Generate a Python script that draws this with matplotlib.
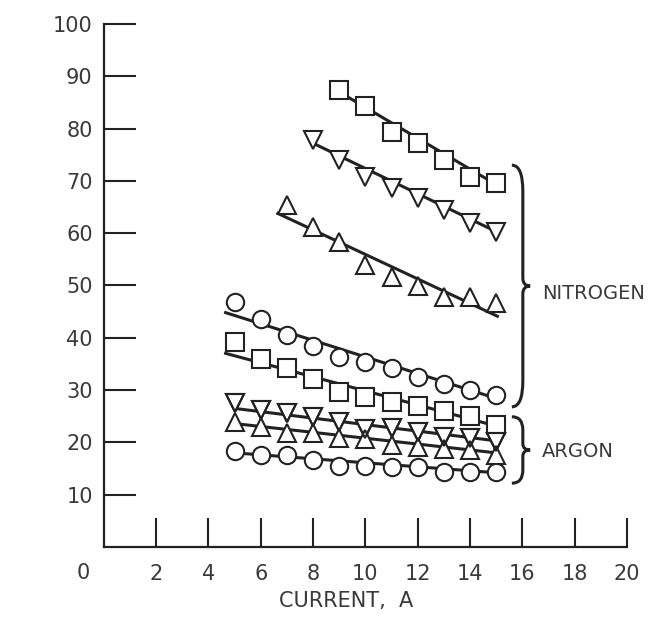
import numpy as np
import matplotlib
matplotlib.use("Agg")
import matplotlib.pyplot as plt
from matplotlib.path import Path
from matplotlib.patches import PathPatch

plt.rcParams['font.family'] = ['Liberation Sans Narrow', 'DejaVu Sans']

# nitrogen series (current, A -> value)
n_sq_hi_x = [9, 10, 11, 12, 13, 14, 15]
n_sq_hi_y = [87.4, 84.3, 79.3, 77.2, 74.0, 70.7, 69.6]
n_dn_x = [8, 9, 10, 11, 12, 13, 14, 15]
n_dn_y = [77.8, 74.0, 70.7, 68.7, 66.7, 64.4, 62.0, 60.2]
n_up_x = [7, 8, 9, 10, 11, 12, 13, 14, 15]
n_up_y = [65.4, 61.2, 58.3, 53.9, 51.6, 49.9, 47.8, 47.8, 46.7]
n_circ_x = [5, 6, 7, 8, 9, 10, 11, 12, 13, 14, 15]
n_circ_y = [46.8, 43.6, 40.5, 38.4, 36.3, 35.4, 34.2, 32.5, 31.2, 30.0, 29.1]
n_sq_lo_x = [5, 6, 7, 8, 9, 10, 11, 12, 13, 14, 15]
n_sq_lo_y = [39.2, 35.9, 34.2, 32.1, 29.6, 28.7, 27.7, 27.0, 26.0, 25.0, 23.3]

# argon series
a_x = [5, 6, 7, 8, 9, 10, 11, 12, 13, 14, 15]
a_dn_y = [27.5, 26.2, 25.6, 24.9, 23.9, 22.6, 22.8, 22.0, 21.1, 20.8, 20.1]
a_up_y = [23.9, 23.0, 21.8, 21.8, 20.8, 20.7, 19.5, 19.1, 18.8, 18.5, 17.6]
a_circ_y = [18.4, 17.6, 17.6, 16.6, 15.5, 15.5, 15.3, 15.3, 14.3, 14.3, 14.3]

# faired lines: (x start, x end), (y start, y end)
fit_n_sq_hi = ([9.0, 15.0], [87.0, 69.3])
fit_n_dn = ([8.0, 15.0], [77.2, 60.3])
fit_n_up = ([6.6, 15.1], [63.9, 44.0])
fit_n_circ = ([4.6, 15.2], [44.9, 28.1])
fit_n_sq_lo = ([4.6, 15.1], [37.1, 23.0])
fit_a_dn = ([5.0, 15.0], [26.5, 20.3])
fit_a_up = ([5.0, 15.0], [23.6, 18.0])
fit_a_circ = ([5.0, 15.0], [18.0, 14.2])

x_ticks = [2, 4, 6, 8, 10, 12, 14, 16, 18, 20]
y_ticks = [10, 20, 30, 40, 50, 60, 70, 80, 90, 100]

ink = '#222222'
txt = '#3a3a3a'

fig = plt.figure(figsize=(6.49, 6.19), dpi=100)
ax = fig.add_axes([0.160, 0.1163, 0.806, 0.845])
ax.set_xlim(0, 20)
ax.set_ylim(0, 100)

for fx, fy in [fit_n_sq_hi, fit_n_dn, fit_n_up, fit_n_circ, fit_n_sq_lo,
               fit_a_dn, fit_a_up, fit_a_circ]:
    ax.plot(fx, fy, color=ink, lw=2.2, zorder=2, solid_capstyle='butt')

mk = dict(ls='none', mec=ink, mfc='white', mew=1.5, zorder=3)
ax.plot(n_sq_hi_x, n_sq_hi_y, marker='s', ms=12.5, **mk)
ax.plot(n_dn_x, n_dn_y, marker='v', ms=13.5, **mk)
ax.plot(n_up_x, n_up_y, marker='^', ms=13.5, **mk)
ax.plot(n_circ_x, n_circ_y, marker='o', ms=12.5, **mk)
ax.plot(n_sq_lo_x, n_sq_lo_y, marker='s', ms=12.5, **mk)
ax.plot(a_x, a_circ_y, marker='o', ms=12.5, **mk)
ax.plot(a_x, a_dn_y, marker='v', ms=13.5, **mk)
ax.plot(a_x, a_up_y, marker='^', ms=13.5, **mk)
# overlapping argon triangles keep both outlines
ax.plot(a_x, a_dn_y, marker='v', ms=13.5, ls='none', mec=ink, mfc='none', mew=1.5, zorder=4)


def brace(x0, y_bot, y_top, w, r_end, r_tip):
    xm = x0 + w * 0.6
    ymid = (y_bot + y_top) / 2
    verts = [(x0, y_top), (xm, y_top), (xm, y_top - r_end),
             (xm, ymid + r_tip), (xm, ymid), (x0 + w, ymid),
             (xm, ymid), (xm, ymid - r_tip),
             (xm, y_bot + r_end), (xm, y_bot), (x0, y_bot)]
    codes = [Path.MOVETO, Path.CURVE3, Path.CURVE3,
             Path.LINETO, Path.CURVE3, Path.CURVE3,
             Path.CURVE3, Path.CURVE3,
             Path.LINETO, Path.CURVE3, Path.CURVE3]
    ax.add_patch(PathPatch(Path(verts, codes), fc='none', ec=ink, lw=2.2,
                           clip_on=False, zorder=3))


brace(15.6, 26.8, 73.0, 0.7, 5.0, 1.5)
brace(15.6, 12.2, 24.9, 0.7, 2.5, 1.2)
ax.text(16.75, 48.5, 'NITROGEN', fontsize=14, color=txt, va='center', ha='left')
ax.text(16.75, 18.2, 'ARGON', fontsize=14, color=txt, va='center', ha='left')

for side in ['top', 'right']:
    ax.spines[side].set_visible(False)
for side in ['left', 'bottom']:
    ax.spines[side].set_linewidth(1.6)
    ax.spines[side].set_color(ink)

ax.set_xticks(x_ticks)
ax.set_yticks(y_ticks)
ax.set_xticklabels([str(v) for v in x_ticks])
ax.set_yticklabels([str(v) for v in y_ticks])
ax.tick_params(axis='x', direction='in', length=21, width=1.5, color=ink,
               labelsize=15, labelcolor=txt, pad=12)
ax.tick_params(axis='y', direction='in', length=23, width=1.5, color=ink,
               labelsize=15, labelcolor=txt, pad=8)
ax.text(-0.04, -0.049, '0', transform=ax.transAxes, fontsize=15, color=txt,
        ha='center', va='center')

ax.set_xlabel('CURRENT,  A', fontsize=15, color=txt)
ax.xaxis.set_label_coords(0.463, -0.085)

fig.savefig('out.png', dpi=100)
